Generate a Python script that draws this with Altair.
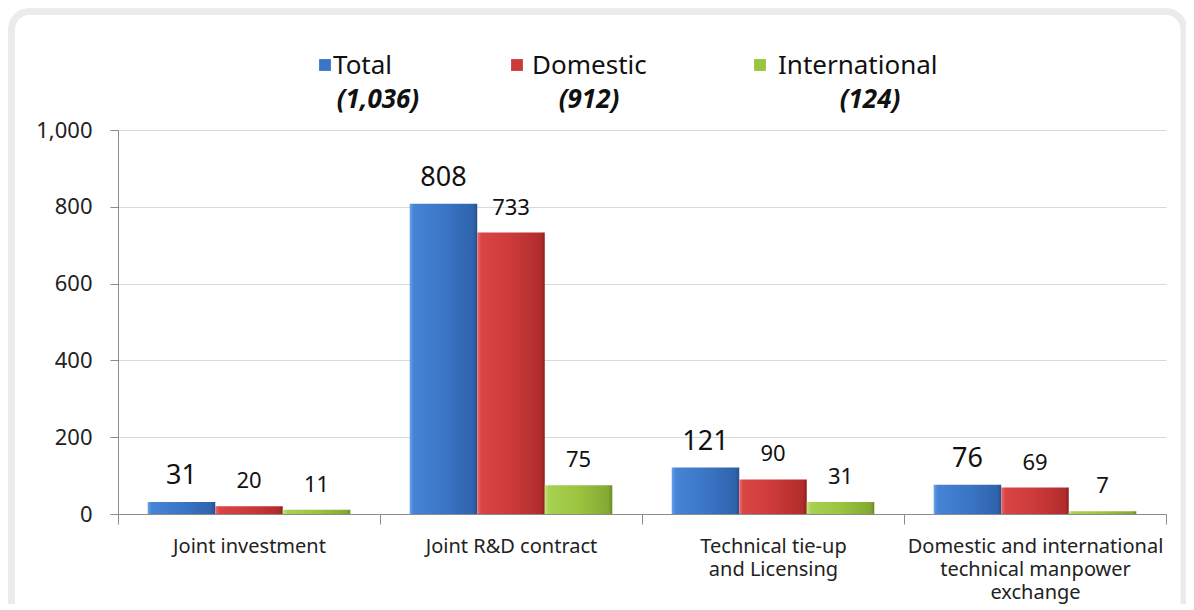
import altair as alt
import pandas as pd

# ---- data ----
categories = [
    "Joint investment",
    "Joint R&D contract",
    "Technical tie-up\nand Licensing",
    "Domestic and international\ntechnical manpower\nexchange",
]
series = ["Total", "Domestic", "International"]
total_values = [31, 808, 121, 76]
domestic_values = [20, 733, 90, 69]
international_values = [11, 75, 31, 7]
series_totals = ["(1,036)", "(912)", "(124)"]
y_ticks = [0, 200, 400, 600, 800, 1000]

# ---- styles / layout ----
FONT = "Noto Sans"
base_colors = ["#3b76c6", "#cc3a3a", "#9bc43f"]
grad_stops = [
    ["#6aa1ea", "#4584d6", "#3b76c6", "#2f63ad", "#24508f"],
    ["#ee6b6b", "#d94545", "#cc3a3a", "#b22c2c", "#8e2020"],
    ["#c8e67c", "#a9d152", "#9bc43f", "#84a934", "#6a8a26"],
]
legend_square_x = [207, 399, 642]
legend_text_x = [215, 414, 660]
legend_total_x = [260, 471, 752]

rows = []
for vals, s in zip([total_values, domestic_values, international_values], series):
    for c, v in zip(categories, vals):
        rows.append({"category": c, "series": s, "value": v})
df = pd.DataFrame(rows)

x_enc = alt.X(
    "category:N",
    sort=categories,
    scale=alt.Scale(domain=categories, paddingInner=0, paddingOuter=0),
    axis=alt.Axis(
        title=None,
        labelExpr="split(datum.label, '\\n')",
        labelAngle=0,
        labelLimit=400,
        tickBand="extent",
        tickSize=10,
        tickColor="#8c8c8c",
        domainColor="#8c8c8c",
        labelFontSize=20,
        labelColor="#222222",
        labelLineHeight=23,
        labelPadding=12,
        labelBaseline="top",
        grid=False,
    ),
)
xoff_enc = alt.XOffset(
    "series:N",
    sort=series,
    scale=alt.Scale(domain=series, paddingInner=0, paddingOuter=0.44),
)
y_enc = alt.Y(
    "value:Q",
    scale=alt.Scale(domain=[0, 1000], nice=False),
    axis=alt.Axis(
        title=None,
        values=y_ticks,
        format=",d",
        tickSize=8,
        labelPadding=18,
        labelFontSize=22,
        labelColor="#222222",
        gridColor="#d9d9d9",
        domainColor="#8c8c8c",
        tickColor="#8c8c8c",
    ),
)

base = alt.Chart(df)

frame = alt.Chart(pd.DataFrame({"a": [0]})).mark_rect(
    fillOpacity=0, stroke="#ebebeb", strokeWidth=7, cornerRadius=18
).encode(
    x=alt.value(-106.5), x2=alt.value(1066), y=alt.value(-118.5), y2=alt.value(520)
)

layers = [frame]
for i, s in enumerate(series):
    st = grad_stops[i]
    grad = alt.Gradient(
        gradient="linear",
        stops=[
            alt.GradientStop(color=st[0], offset=0),
            alt.GradientStop(color=st[1], offset=0.06),
            alt.GradientStop(color=st[2], offset=0.5),
            alt.GradientStop(color=st[3], offset=0.94),
            alt.GradientStop(color=st[4], offset=1),
        ],
        x1=0, x2=1, y1=0, y2=0,
    )
    layers.append(
        base.transform_filter(alt.datum.series == s)
        .mark_bar(color=grad)
        .encode(x=x_enc, xOffset=xoff_enc, y=y_enc)
    )

for i, s in enumerate(series):
    layers.append(
        base.transform_filter(alt.datum.series == s)
        .mark_text(
            fontSize=27 if s == "Total" else 22,
            baseline="alphabetic",
            dy=-18,
            color="#111111",
        )
        .encode(x=x_enc, xOffset=xoff_enc, y=y_enc, text=alt.Text("value:Q"))
    )

for i, s in enumerate(series):
    ldf = pd.DataFrame({"series": [s], "total": [series_totals[i]]})
    lc = alt.Chart(ldf)
    layers.append(
        lc.mark_square(size=140, color=base_colors[i], opacity=1).encode(
            x=alt.value(legend_square_x[i]), y=alt.value(-65)
        )
    )
    layers.append(
        lc.mark_text(align="left", baseline="middle", fontSize=26, color="#111111").encode(
            x=alt.value(legend_text_x[i]), y=alt.value(-64), text="series:N"
        )
    )
    layers.append(
        lc.mark_text(
            align="center", baseline="middle", fontSize=26,
            fontWeight="bold", fontStyle="italic", color="#111111",
        ).encode(x=alt.value(legend_total_x[i]), y=alt.value(-30), text="total:N")
    )

chart = (
    alt.layer(*layers)
    .properties(
        width=1048,
        height=384,
        padding={"left": 110, "top": 122, "right": 20, "bottom": 90},
        autosize=alt.AutoSizeParams(type="none"),
    )
    .configure(font=FONT, background="white")
    .configure_view(strokeWidth=0)
)

chart.save("out.html", embed_options={"renderer": "svg", "actions": False})
